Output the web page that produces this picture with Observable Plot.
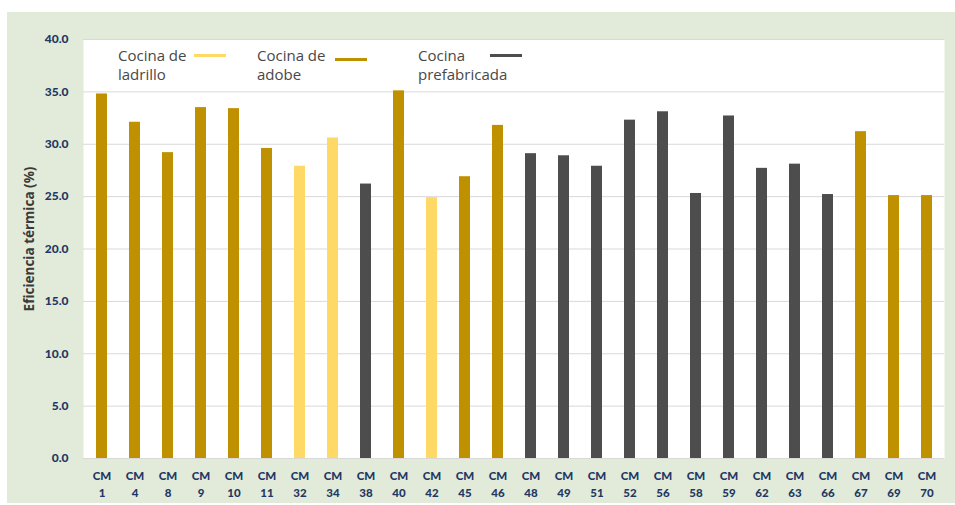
<!DOCTYPE html>
<html>
<head>
<meta charset="utf-8">
<script src="https://cdn.jsdelivr.net/npm/d3@7"></script>
<script src="https://cdn.jsdelivr.net/npm/@observablehq/plot@0.6"></script>
<style>
  body { margin: 0; background: #ffffff; }
  #wrap { position: relative; width: 955px; height: 505px; overflow: hidden; }
  #panel { position: absolute; left: 7px; top: 12px; width: 948px; height: 491px; background: #e2ebd9; }
  #chart { position: absolute; left: 0; top: 0; }
  .leg { position: absolute; font-family: "Open Sans", sans-serif; font-size: 15px; line-height: 19px; color: #484848; white-space: pre; }
  .sw { position: absolute; height: 3px; width: 32px; }
</style>
</head>
<body>
<div id="wrap">
  <div id="panel"></div>
  <div id="chart"></div>
</div>
<script>
// Cocinas mejoradas evaluadas (código CM) y su eficiencia térmica (%)
const stoves = ["1", "4", "8", "9", "10", "11", "32", "34", "38", "40", "42", "45", "46",
                "48", "49", "51", "52", "56", "58", "59", "62", "63", "66", "67", "69", "70"];
const efficiency = [34.8, 32.1, 29.2, 33.5, 33.4, 29.6, 27.9, 30.6, 26.2, 35.1, 24.9, 26.9, 31.8,
                    29.1, 28.9, 27.9, 32.3, 33.1, 25.3, 32.7, 27.7, 28.1, 25.2, 31.2, 25.1, 25.1];
const stoveType = ["adobe", "adobe", "adobe", "adobe", "adobe", "adobe", "ladrillo", "ladrillo",
                   "prefabricada", "adobe", "ladrillo", "adobe", "adobe",
                   "prefabricada", "prefabricada", "prefabricada", "prefabricada", "prefabricada",
                   "prefabricada", "prefabricada", "prefabricada", "prefabricada", "prefabricada",
                   "adobe", "adobe", "adobe"];

// Tipos de cocina, en el orden de la leyenda
const typeNames = ["ladrillo", "adobe", "prefabricada"];
const typeLabels = ["Cocina de\nladrillo", "Cocina de\nadobe", "Cocina\nprefabricada"];
const typeColors = ["#ffd966", "#bf9000", "#4d4d4d"];

// Marcas del eje vertical
const yTicks = [0, 5, 10, 15, 20, 25, 30, 35, 40];

const data = stoves.map((s, i) => ({ stove: "CM " + s, value: efficiency[i], type: stoveType[i] }));

const chart = Plot.plot({
  width: 955,
  height: 505,
  marginLeft: 83,
  marginRight: 11,
  marginTop: 39,
  marginBottom: 47,
  style: { background: "transparent", fontFamily: "Lato, sans-serif", overflow: "visible" },
  x: { domain: data.map(d => d.stove), paddingInner: 0.667, paddingOuter: 0.36, label: null },
  y: { domain: [0, 40], label: null },
  color: { domain: typeNames, range: typeColors },
  marks: [
    Plot.frame({ fill: "#ffffff", stroke: "none" }),
    Plot.gridY(yTicks, { stroke: "#d9d9d9", strokeOpacity: 1, strokeWidth: 1 }),
    Plot.barY(data, { x: "stove", y: "value", fill: "type" }),
    Plot.axisY(yTicks, {
      tickSize: 0, tickPadding: 15, tickFormat: d => d.toFixed(1),
      fontWeight: "900", fontSize: 12, color: "#1f3864", label: null
    }),
    Plot.axisX({
      tickSize: 0, tickPadding: 10, tickFormat: d => d.replace(" ", "\n"), lineHeight: 1.45,
      fontWeight: "900", fontSize: 11.5, color: "#1f3864", label: null
    }),
    Plot.text(["Eficiencia térmica (%)"], {
      frameAnchor: "left", textAnchor: "middle", dx: -54, dy: -10, rotate: -90,
      fontFamily: "Open Sans, sans-serif", fontWeight: "bold", fontSize: 13.5, fill: "#3a3a3a"
    })
  ]
});
document.getElementById("chart").appendChild(chart);

// Leyenda dentro del área del gráfico
const legendTextX = [118, 257, 418];
const legendSwatchX = [194, 335, 490];
const legendSwatchY = [54, 58, 54];
const wrap = document.getElementById("wrap");
typeLabels.forEach((label, i) => {
  const t = document.createElement("div");
  t.className = "leg";
  t.style.left = legendTextX[i] + "px";
  t.style.top = "46px";
  t.textContent = label;
  wrap.appendChild(t);
  const s = document.createElement("div");
  s.className = "sw";
  s.style.left = legendSwatchX[i] + "px";
  s.style.top = legendSwatchY[i] + "px";
  s.style.background = typeColors[i];
  wrap.appendChild(s);
});
</script>
</body>
</html>
